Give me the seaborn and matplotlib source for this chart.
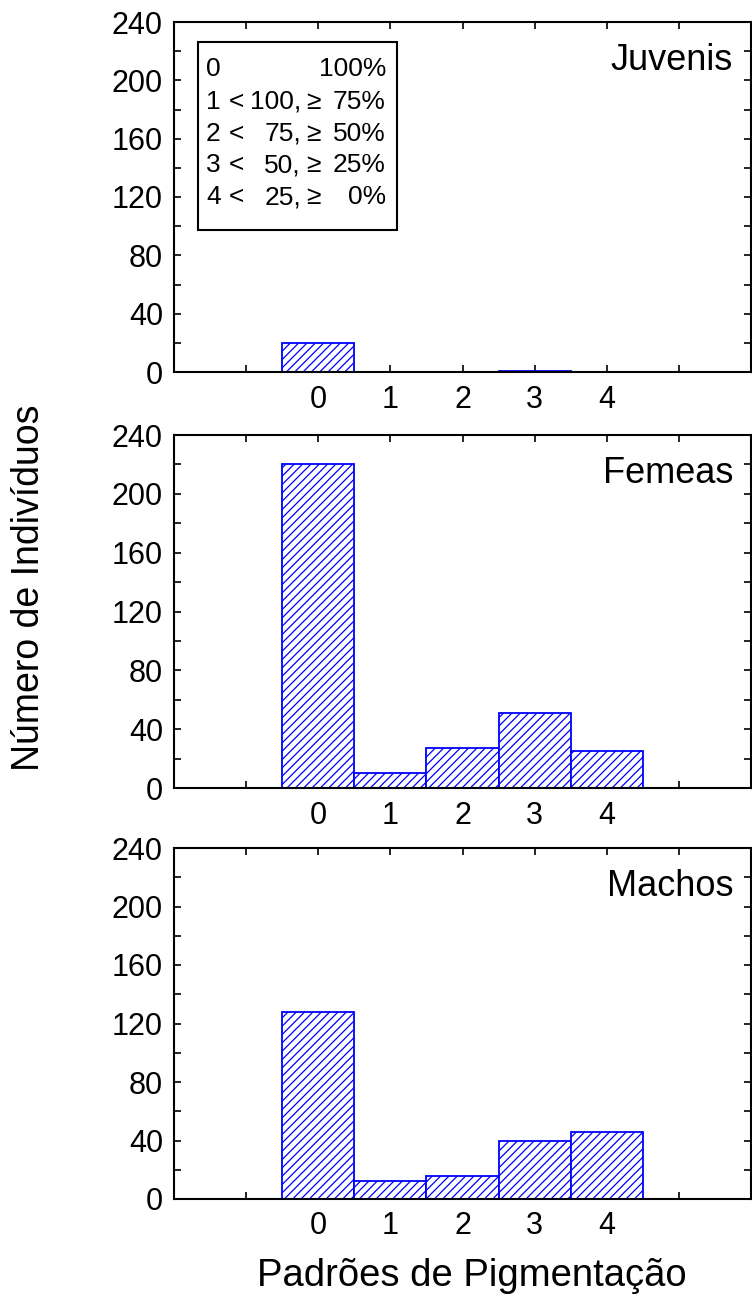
###################################################################################################
# Required Libraries
###################################################################################################
import pandas as pd
import matplotlib
matplotlib.use("Agg")
import matplotlib.pyplot as plt
from matplotlib.ticker import MultipleLocator, FixedLocator, FixedFormatter
from matplotlib.patches import Rectangle
import seaborn as sns

###################################################################################################
# Data
###################################################################################################
padroes = [0, 1, 2, 3, 4]
juvenis = [20, 0, 0, 1, 0]
femeas = [220, 10, 27, 51, 25]
machos = [128, 12, 16, 40, 46]

grupos = ["Juvenis", "Femeas", "Machos"]
xtick_pos = [-1, 0, 1, 2, 3, 4, 5]
xtick_labels = ["", "0", "1", "2", "3", "4", ""]

legenda_digitos = ["0", "1", "2", "3", "4"]
legenda_menor = ["", "<", "<", "<", "<"]
legenda_limite = ["", "100,", "75,", "50,", "25,"]
legenda_maior = ["", "\u2265", "\u2265", "\u2265", "\u2265"]
legenda_pct = ["100%", "75%", "50%", "25%", "0%"]

###################################################################################################
# Style
###################################################################################################
sns.set_theme(style="ticks")
plt.rcParams['font.family'] = ['Liberation Sans', 'DejaVu Sans']
plt.rcParams['text.color'] = 'black'
plt.rcParams['axes.labelcolor'] = 'black'
plt.rcParams['hatch.color'] = 'blue'
plt.rcParams['hatch.linewidth'] = 0.9

W, H = 752, 1299
AX_LEFT, AX_RIGHT = 174, 751
PANELS = [(22, 372), (435, 788), (848, 1199)]   # top, bottom in pixels


def px_rect(top, bottom):
    return [AX_LEFT / W, 1 - bottom / H, (AX_RIGHT - AX_LEFT) / W, (bottom - top) / H]


def fx(px):
    return (px - AX_LEFT) / (AX_RIGHT - AX_LEFT)


def fy(py, top, bottom):
    return 1 - (py - top) / (bottom - top)


###################################################################################################
# Function name = DrawPanel
# description = draws one hatched bar panel
###################################################################################################
def DrawPanel(ax, valores, nome):
    df = pd.DataFrame({"padrao": padroes, "n": valores})
    sns.barplot(data=df, x="padrao", y="n", ax=ax, width=1.0, color="white",
                saturation=1, edgecolor="blue", linewidth=1.3, hatch="////", errorbar=None)
    ax.set_xlim(-2, 6)
    ax.set_ylim(0, 240)
    ax.xaxis.set_major_locator(FixedLocator(xtick_pos))
    ax.xaxis.set_major_formatter(FixedFormatter(xtick_labels))
    ax.yaxis.set_major_locator(MultipleLocator(40))
    ax.yaxis.set_minor_locator(MultipleLocator(20))
    ax.tick_params(axis="both", which="both", direction="in", length=5, width=1.2,
                   top=True, right=True, colors="black", labelsize=22)
    ax.tick_params(axis="y", pad=8)
    ax.tick_params(axis="x", pad=9)
    ax.set_xlabel("")
    ax.set_ylabel("")
    for s in ax.spines.values():
        s.set_visible(True)
        s.set_color("black")
        s.set_linewidth(1.5)
    ax.text(fx(733), 0.89, nome, transform=ax.transAxes, ha="right", va="center",
            fontsize=26, color="black")


###################################################################################################
# Function name = DrawLegendBox
# description = draws the box with the pigment pattern definitions
###################################################################################################
def DrawLegendBox(ax, top, bottom):
    x0, x1 = fx(198), fx(397)
    y0, y1 = fy(230, top, bottom), fy(42, top, bottom)
    ax.add_patch(Rectangle((x0, y0), x1 - x0, y1 - y0, transform=ax.transAxes,
                           fill=False, edgecolor="black", linewidth=1.5, zorder=5))
    linhas = [69, 102, 134, 165, 197]
    for i, py in enumerate(linhas):
        y = fy(py, top, bottom)
        kw = dict(transform=ax.transAxes, va="center", fontsize=19, color="black")
        ax.text(fx(206), y, legenda_digitos[i], ha="left", **kw)
        ax.text(fx(229), y, legenda_menor[i], ha="left", **kw)
        ax.text(fx(301), y, legenda_limite[i], ha="right", **kw)
        ax.text(fx(306), y, legenda_maior[i], ha="left", **kw)
        ax.text(fx(386), y, legenda_pct[i], ha="right", **kw)


###################################################################################################
# Function name = main
###################################################################################################
def main():
    fig = plt.figure(figsize=(W / 100, H / 100), dpi=100)
    fig.patch.set_facecolor("white")
    series = [juvenis, femeas, machos]
    for i, (top, bottom) in enumerate(PANELS):
        ax = fig.add_axes(px_rect(top, bottom))
        ax.set_facecolor("white")
        DrawPanel(ax, series[i], grupos[i])
        if i == 0:
            DrawLegendBox(ax, top, bottom)

    fig.text(29 / W, 1 - 588 / H, "Número de Indivíduos", rotation=90,
             ha="center", va="center", fontsize=27)
    fig.text(472 / W, 1 - 1276 / H, "Padrões de Pigmentação",
             ha="center", va="center", fontsize=27.5)
    fig.savefig("out.png", dpi=100, facecolor="white")


###################################################################################################
# application starter
###################################################################################################
if __name__ == "__main__":
    main()
